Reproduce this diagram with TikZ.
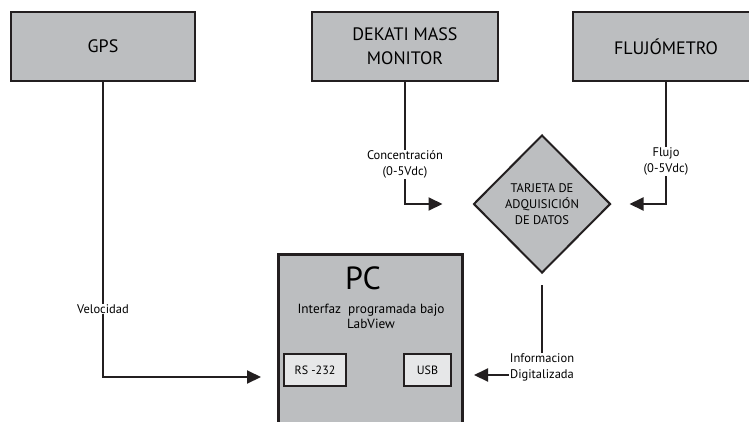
\documentclass[tikz,border=0pt]{standalone}
\usepackage{fontspec}
\setmainfont{PT Sans}
\usepackage{xcolor}
\usetikzlibrary{shapes.geometric,arrows.meta}
\definecolor{caja}{HTML}{BCBEC0}
\definecolor{cajaclara}{HTML}{E6E7E8}
\definecolor{negro}{HTML}{231F20}

\begin{document}
\begin{tikzpicture}[x=1pt,y=-1pt,
		bloque/.style={draw=negro, line width=2.6pt, fill=caja, inner sep=0pt, align=center, minimum height=69pt, font=\fontsize{18}{24}\selectfont},
		puerto/.style={draw=negro, line width=2.6pt, fill=cajaclara, inner sep=0pt, minimum height=32pt, font=\fontsize{12}{16}\selectfont},
		etiqueta/.style={fill=white, inner sep=0.5pt, align=center, font=\fontsize{12.5}{16}\selectfont},
		flecha/.style={draw=negro, line width=2pt, -{Triangle[length=14pt,width=13pt]}}]
		\clip (0,0) rectangle (749,421);
		
		\node (gps) [bloque, minimum width=184pt] at (103,46.5) {GPS};
		\node (dekati) [bloque, minimum width=186pt] at (405,46.5) {DEKATI MASS\\MONITOR};
		\node (flujo) [bloque, minimum width=186pt] at (666,46.5) {FLUJÓMETRO};
		
		\node (tarjeta) [diamond, aspect=1, draw=negro, line width=2pt, fill=caja, inner sep=0pt,
			minimum width=137pt, minimum height=138pt, align=center, font=\fontsize{12.5}{16}\selectfont]
			at (542,204) {TARJETA DE\\ADQUISICIÓN\\DE DATOS};
		
		\node (pc) [bloque, anchor=north west, minimum width=184pt, minimum height=190pt] at (277,253) {};
		\node (pctitulo) [font=\fontsize{32}{32}\selectfont, inner sep=0pt] at (363,278) {PC};
		\node (pctexto) [align=center, inner sep=0pt, font=\fontsize{13.3}{15}\selectfont] at (371,316) {Interfaz\ \ programada bajo\\LabView};
		\node (rs) [puerto, minimum width=62pt] at (315,370) {RS -232};
		\node (usb) [puerto, minimum width=47pt] at (427.5,370) {USB};
		
		\coordinate (rsin) at (261,377);
		\coordinate (usbin) at (474,375);
		\coordinate (tout) at (542,285);
		
		\draw[flecha] (gps.south) |- (rsin) node[etiqueta, pos=0.385] (vel) {Velocidad};
		\draw[flecha, shorten >=30pt] (dekati.south) |- (tarjeta.west) node[etiqueta, pos=0.337] (conc) {Concentración\\(0-5Vdc)};
		\draw[flecha, shorten >=18pt] (flujo.south) |- (tarjeta.east) node[etiqueta, pos=0.325] (caudal) {Flujo\\(0-5Vdc)};
		\draw[flecha] (tout) |- (usbin) node[etiqueta, pos=0.5, yshift=8pt] (info) {Informacion\\Digitalizada};
	\end{tikzpicture}
\end{document}
